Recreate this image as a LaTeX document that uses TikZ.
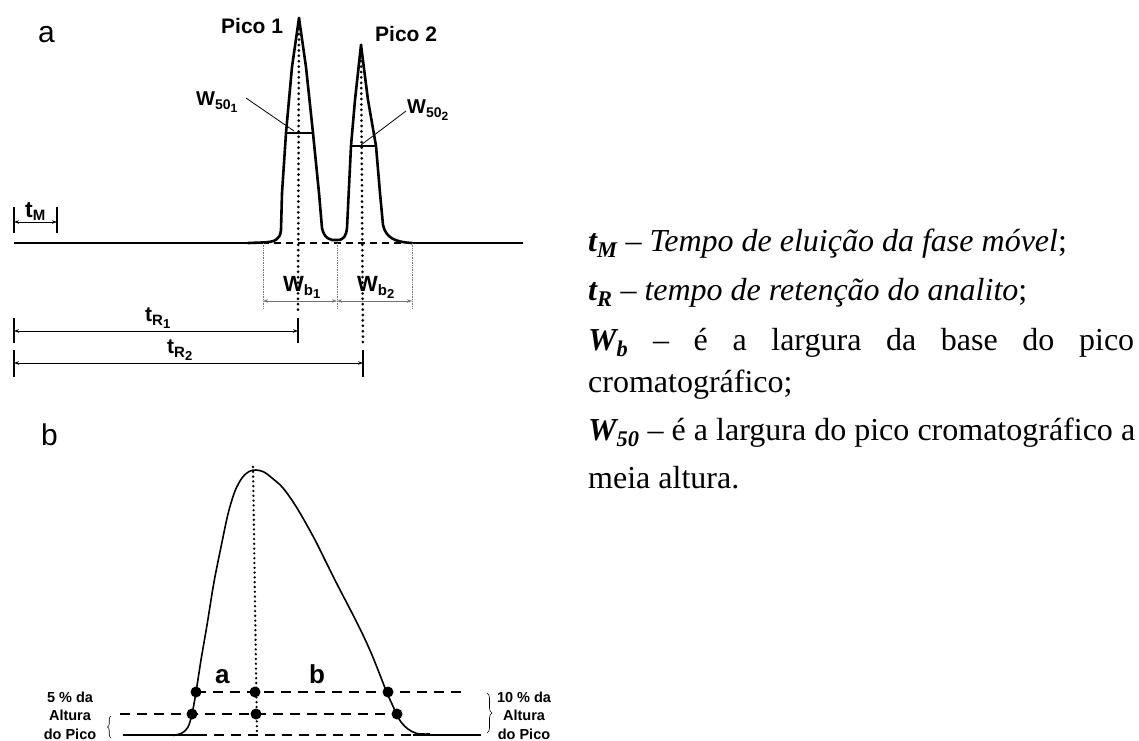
\documentclass[tikz,border=0pt]{standalone}
\usepackage{fontspec}
\setmainfont{Liberation Serif}
\newfontfamily\arialf{Liberation Sans}
\usetikzlibrary{arrows.meta,decorations.pathreplacing}
\newcommand\myfs[2]{\fontsize{#1}{#2}\selectfont}
\newcommand\lowsub[3]{\raisebox{-#2}{\myfs{#1}{#1}#3}}
\tikzset{
  peak/.style={line width=2.6pt, line join=round, line cap=round},
  baseln/.style={line width=1.1pt},
  dashln/.style={line width=1.1pt, dash pattern=on 7pt off 5pt},
  dotv/.style={line width=3pt, line cap=round, dash pattern=on 0pt off 5.4pt},
  tickln/.style={line width=1.8pt},
  dimarr/.style={line width=0.8pt, {Stealth[length=5pt,width=3.5pt]}-{Stealth[length=5pt,width=3.5pt]}},
  graydim/.style={dimarr, draw=black!55},
  guide/.style={line width=0.7pt, draw=black!55, densely dotted},
  lead/.style={line width=0.8pt},
  lbl/.style={font=\arialf\bfseries\myfs{20}{20}, inner sep=0pt, anchor=base west},
  panel/.style={font=\arialf\myfs{30}{30}, inner sep=0pt, anchor=base west},
  note/.style={font=\arialf\bfseries\myfs{14.5}{18.5}, align=center, inner sep=0pt, anchor=base},
  bdot/.style={circle, fill, inner sep=0pt, minimum size=11pt},
  bdash/.style={line width=2pt, dash pattern=on 10pt off 7pt},
  bsolid/.style={line width=2pt},
  curveb/.style={line width=1.6pt, line join=round},
  txt/.style={anchor=base west, inner sep=0pt, font=\myfs{32}{32}},
  bracestyle/.style={line width=0.6pt, decorate}
}
\begin{document}
\begin{tikzpicture}[x=1pt,y=-1pt]
\useasboundingbox (0,0) rectangle (1139,740);
% ---------------- panel a ----------------
\node[panel] (pa) at (38,42) {a};
\node[lbl, font=\arialf\bfseries\myfs{21}{21}] (pico1) at (221,33) {Pico 1};
\node[lbl, font=\arialf\bfseries\myfs{21}{21}] (pico2) at (375,41) {Pico 2};
\coordinate (A1) at (299,18);
\coordinate (A2) at (361,45);
% baseline
\coordinate (B0) at (14,243);
\coordinate (B1) at (250,243);
\coordinate (B2) at (262,243);
\coordinate (B3) at (412,243);
\coordinate (B4) at (523,243);
\draw[baseln] (B0) -- (B1);
\draw[dashln] (B2) -- (B3);
\draw[baseln] (B3) -- (B4);
% peaks
\draw[peak] (248,243) -- (262,242.5) .. controls (275,242) and (280,240) .. (281,230)
  -- (282,193) -- (286,133) -- (292,67) -- (A1) -- (306,67) -- (313,133) -- (319,193)
  -- (322,228) .. controls (324,238) and (330,241) .. (337,240)
  .. controls (344,240) and (346,236) .. (347,228) -- (351,146) -- (355,100) -- (A2)
  -- (368,100) -- (376,146) -- (380,193) -- (383,225)
  .. controls (386,238) and (395,242) .. (412,243);
% half-height widths
\coordinate (H1a) at (286,133); \coordinate (H1b) at (313,133);
\coordinate (H2a) at (351,146); \coordinate (H2b) at (376,146);
\draw[line width=1.4pt] (H1a) -- (H1b);
\draw[line width=1.4pt] (H2a) -- (H2b);
% W50 labels and leaders
\node[lbl] (w501) at (196,105) {W\lowsub{14}{4pt}{50}\lowsub{12}{7pt}{1}};
\node[lbl] (w502) at (407,113) {W\lowsub{14}{4pt}{50}\lowsub{12}{7pt}{2}};
\coordinate (L1s) at (246,98); \coordinate (L1e) at (294,131);
\coordinate (L2s) at (406,111); \coordinate (L2e) at (361,145);
\draw[lead] (L1s) -- (L1e);
\draw[lead] (L2s) -- (L2e);
% retention dotted lines
\coordinate (D1) at (298,310);
\coordinate (D2) at (363,347);
\draw[dotv] (A1) -- (D1);
\draw[dotv] (A2) -- (D2);
% tM
\coordinate (tMa) at (14,207); \coordinate (tMb) at (14,233);
\coordinate (tMc) at (57,207); \coordinate (tMd) at (57,233);
\draw[tickln] (tMa) -- (tMb);
\draw[tickln] (tMc) -- (tMd);
\coordinate (tMl) at (14,222); \coordinate (tMr) at (57,222);
\draw[dimarr] (tMl) -- (tMr);
\node[lbl, font=\arialf\bfseries\myfs{23}{23}] (tM) at (25,217) {t\lowsub{15}{3pt}{M}};
% Wb
\coordinate (G1a) at (263,243); \coordinate (G1b) at (263,308);
\coordinate (G2a) at (337,243); \coordinate (G2b) at (337,308);
\coordinate (G3a) at (412,243); \coordinate (G3b) at (412,308);
\draw[guide] (G1a) -- (G1b);
\draw[guide] (G2a) -- (G2b);
\draw[guide] (G3a) -- (G3b);
\coordinate (Wl) at (263,301); \coordinate (Wm) at (337,301); \coordinate (Wr) at (412,301);
\draw[graydim] (Wl) -- (Wm);
\draw[graydim] (Wm) -- (Wr);
\node[lbl, font=\arialf\bfseries\myfs{22}{22}] (wb1) at (283,291) {W\lowsub{15}{4pt}{b}\lowsub{13}{7pt}{1}};
\node[lbl, font=\arialf\bfseries\myfs{22}{22}] (wb2) at (357,291) {W\lowsub{15}{4pt}{b}\lowsub{13}{7pt}{2}};
% tR1, tR2
\coordinate (T1a) at (14,318); \coordinate (T1b) at (14,343);
\coordinate (T1c) at (298,318); \coordinate (T1d) at (298,343);
\draw[tickln] (T1a) -- (T1b);
\draw[tickln] (T1c) -- (T1d);
\coordinate (T1l) at (14,331); \coordinate (T1r) at (298,331);
\draw[dimarr] (T1l) -- (T1r);
\node[lbl, font=\arialf\bfseries\myfs{21}{21}] (tR1) at (145,321) {t\lowsub{15}{4pt}{R}\lowsub{13}{7pt}{1}};
\coordinate (T2a) at (14,350); \coordinate (T2b) at (14,377);
\coordinate (T2c) at (363,350); \coordinate (T2d) at (363,377);
\draw[tickln] (T2a) -- (T2b);
\draw[tickln] (T2c) -- (T2d);
\coordinate (T2l) at (14,363); \coordinate (T2r) at (363,363);
\draw[dimarr] (T2l) -- (T2r);
\node[lbl, font=\arialf\bfseries\myfs{21}{21}] (tR2) at (167,353) {t\lowsub{15}{4pt}{R}\lowsub{13}{7pt}{2}};
% ---------------- panel b ----------------
\node[panel] (pb) at (41,445) {b};
\draw[curveb] plot[smooth, tension=0.55] coordinates {
 (173,735.5) (182,733) (188,727) (192,714) (196,692) (201,660) (207,625) (214,582)
 (221,547) (228,514) (235,491) (242,478) (249,471.5) (256,470) (264,472) (272,478)
 (283,488) (297,508) (314,538) (325,560) (338,586) (351,611) (363,635) (372,655)
 (380,675) (387,693) (392,704) (397,715) (401,722) (408,729) (417,733.5) (430,734)};
\coordinate (Pb) at (253,467);
\coordinate (Pbb) at (257,735);
\draw[dotv, line width=2.6pt, dash pattern=on 0pt off 4.8pt] (Pb) -- (Pbb);
% dashed levels
\coordinate (U1) at (196,692); \coordinate (U2) at (467,692);
\coordinate (M1) at (120,714); \coordinate (M2) at (397,714);
\draw[bdash] (U1) -- (U2);
\draw[bdash] (M1) -- (M2);
\coordinate (Z1) at (123,734.5); \coordinate (Z2) at (197,734.5);
\coordinate (Z3) at (413,734.5); \coordinate (Z4) at (481,734.5);
\draw[bsolid] (Z1) -- (Z2);
\draw[bdash] (Z2) -- (Z3);
\draw[bsolid] (Z3) -- (Z4);
% dots
\node[bdot] (d1) at (196,692) {};
\node[bdot] (d2) at (255,692) {};
\node[bdot] (d3) at (388,692) {};
\node[bdot] (d4) at (192,714) {};
\node[bdot] (d5) at (256,714) {};
\node[bdot] (d6) at (397,714) {};
\node[lbl, font=\arialf\bfseries\myfs{26}{26}] (la) at (215,683) {a};
\node[lbl, font=\arialf\bfseries\myfs{26}{26}] (lb) at (309,683) {b};
% notes and braces
\node[note] (n5) at (70,739) {5 \% da\\Altura\\do Pico};
\node[note] (n10) at (524,739) {10 \% da\\Altura\\do Pico};
\coordinate (Cl1) at (111,738); \coordinate (Cl2) at (111,716);
\draw[bracestyle, decoration={brace, amplitude=3.5pt}] (Cl1) -- (Cl2);
\coordinate (Cr1) at (487,693); \coordinate (Cr2) at (487,733);
\draw[bracestyle, decoration={brace, amplitude=5pt}] (Cr1) -- (Cr2);
% ---------------- text ----------------
\node[txt] (t1) at (588,251) {{\bfseries\itshape t\textsubscript{M}} – {\itshape Tempo de eluição da fase móvel};};
\node[txt] (t2) at (588,300) {{\bfseries\itshape t\textsubscript{R}} – {\itshape tempo de retenção do analito};};
\node[txt] (t3) at (588,350) {\makebox[546pt][s]{{\bfseries\itshape W\textsubscript{b}} – é a largura da base do pico}};
\node[txt] (t4) at (588,392) {cromatográfico;};
\node[txt] (t5) at (588,440) {\makebox[547pt][s]{{\bfseries\itshape W\textsubscript{50}} – é a largura do pico cromatográfico a}};
\node[txt] (t6) at (588,488) {meia altura.};
\end{tikzpicture}
\end{document}
